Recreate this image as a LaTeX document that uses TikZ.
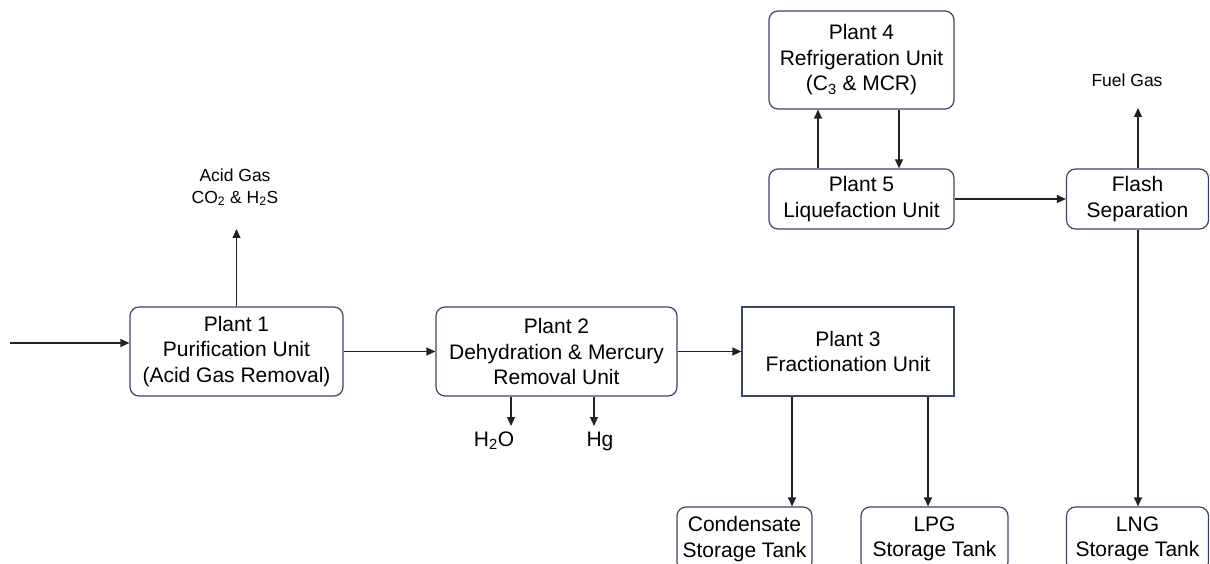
\documentclass[tikz,border=0pt]{standalone}
\usepackage{fontspec}
\setmainfont{Liberation Sans}
\usetikzlibrary{arrows.meta}
\definecolor{boxc}{HTML}{3C4668}
\definecolor{linec}{HTML}{222222}
\begin{document}
\begin{tikzpicture}[x=1pt,y=-1pt,
 unit/.style={draw=boxc, line width=1.2pt, rounded corners=9pt, align=center, font=\fontsize{21}{25.5}\selectfont, inner sep=0pt},
 sharpunit/.style={unit, sharp corners},
 flow/.style={draw=linec, line width=1.2pt, -{Triangle[length=9pt,width=8pt]}},
 lbl/.style={font=\fontsize{17.5}{22}\selectfont, align=center, inner sep=0pt},
 biglbl/.style={font=\fontsize{21}{22}\selectfont, align=center, inner sep=0pt}]
\useasboundingbox (0,0) rectangle (1210,564);
\clip (0,0) rectangle (1210,564);
% units
\node[unit, minimum width=213pt, minimum height=89pt] (p1) at (236.5,351.5) {Plant 1\\Purification Unit\\(Acid Gas Removal)};
\node[unit, minimum width=241pt, minimum height=89pt] (p2) at (556.5,351.5) {Plant 2\\Dehydration \& Mercury\\Removal Unit};
\node[sharpunit, minimum width=212pt, minimum height=89pt] (p3) at (848,351.5) {Plant 3\\Fractionation Unit};
\node[unit, minimum width=185pt, minimum height=98pt] (p4) at (861.5,60) {Plant 4\\Refrigeration Unit\\(C\textsubscript{3} \& MCR)};
\node[unit, minimum width=185pt, minimum height=60pt] (p5) at (861.5,199) {Plant 5\\Liquefaction Unit};
\node[unit, minimum width=142pt, minimum height=60pt] (fl) at (1137.5,199) {Flash\\Separation};
\node[unit, minimum width=135pt, minimum height=64pt] (cond) at (744.5,539) {Condensate\\Storage Tank};
\node[unit, minimum width=147pt, minimum height=64pt] (lpg) at (934.5,539) {LPG\\Storage Tank};
\node[unit, minimum width=142pt, minimum height=64pt] (lng) at (1137.5,539) {LNG\\Storage Tank};
% labels
\node[lbl] (aglbl) at (235,187) {Acid Gas\\CO\textsubscript{2} \& H\textsubscript{2}S};
\node[lbl] (fglbl) at (1127,80) {Fuel Gas};
\node[biglbl] (h2olbl) at (494,441) {H\textsubscript{2}O};
\node[biglbl] (hglbl) at (600,441) {Hg};
% free ends
\coordinate (in) at (10,343);
\coordinate (ag) at (236.5,229);
\coordinate (h2o) at (511,426);
\coordinate (hg) at (594,426);
\coordinate (fg) at (1138,108);
\coordinate (c1) at (792,396);
\coordinate (c2) at (928,396);
\coordinate (u1) at (818,169);
\coordinate (u2) at (899,109);
% connectors
\draw[flow] (in) -- (in -| p1.west);
\draw[flow] (p1.north) -- (ag);
\draw[flow] (p1.east) -- (p2.west);
\draw[flow] (p2.east) -- (p3.west);
\draw[flow] (h2o |- p2.south) -- (h2o);
\draw[flow] (hg |- p2.south) -- (hg);
\draw[flow] (c1 |- p3.south) -- (c1 |- cond.north);
\draw[flow] (c2 |- p3.south) -- (c2 |- lpg.north);
\draw[flow] (u1 |- p5.north) -- (u1 |- p4.south);
\draw[flow] (u2 |- p4.south) -- (u2 |- p5.north);
\draw[flow] (p5.east) -- (fl.west);
\draw[flow] (fg |- fl.north) -- (fg);
\draw[flow] (fg |- fl.south) -- (fg |- lng.north);
\end{tikzpicture}
\end{document}
